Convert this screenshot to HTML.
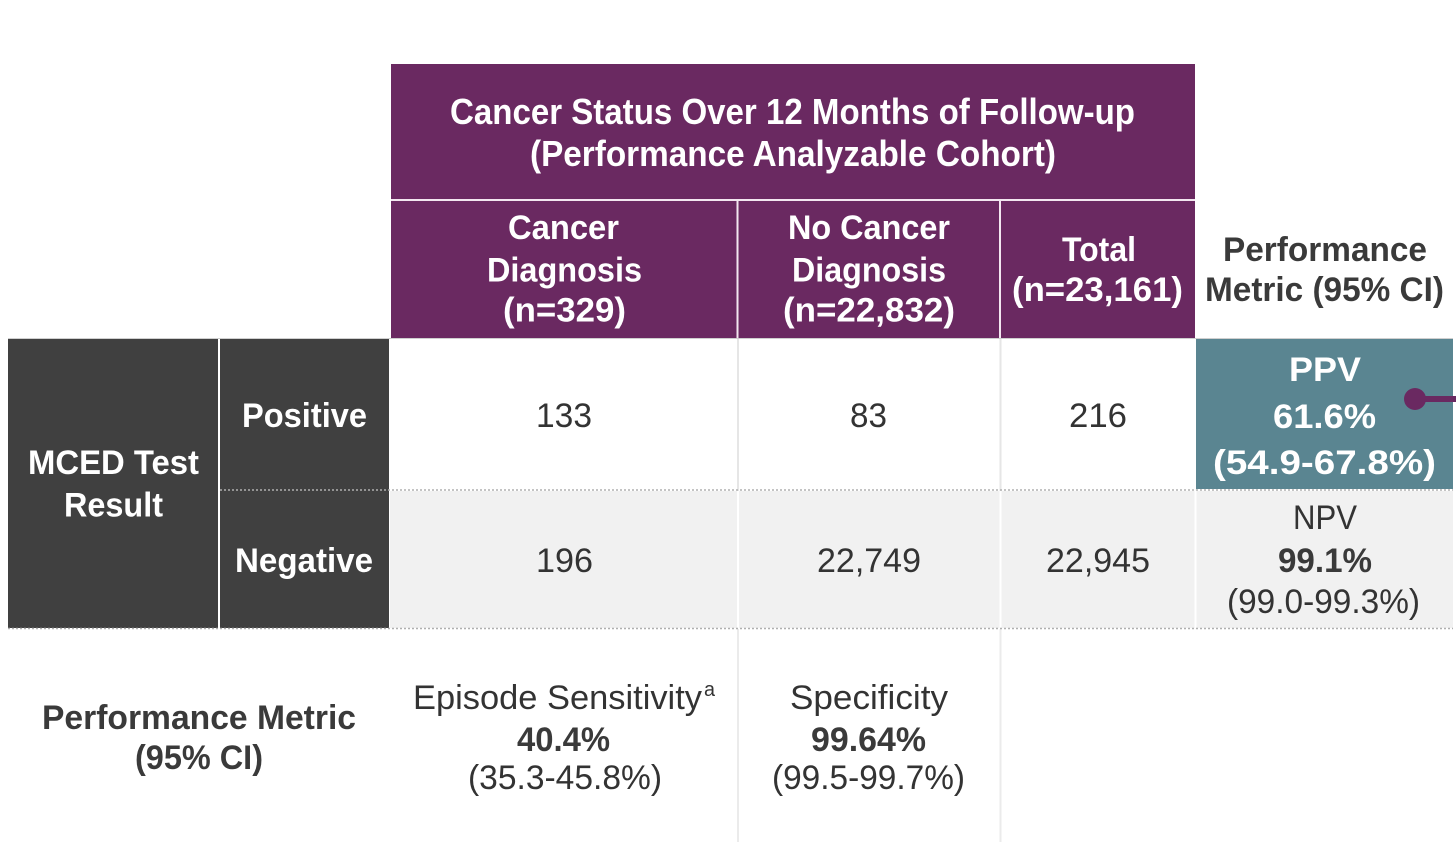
<!DOCTYPE html>
<html><head><meta charset="utf-8"><style>
html,body{margin:0;padding:0;background:#fff;}
svg{display:block;}
text{font-family:"Liberation Sans",Arial,sans-serif;}
.b{font-weight:bold;}
</style></head><body>
<svg width="1456" height="842" viewBox="0 0 1456 842" xmlns="http://www.w3.org/2000/svg">
<rect x="0" y="0" width="1456" height="842" fill="#fff"/>
<!-- purple header -->
<rect x="391" y="64" width="804" height="274" fill="#6a2961"/>
<rect x="391" y="199" width="804" height="2" fill="#f3e6f0"/>
<rect x="736.5" y="200" width="2" height="138" fill="#f3e6f0"/>
<rect x="999" y="200" width="2" height="138" fill="#f3e6f0"/>
<!-- negative row gray -->
<rect x="390" y="491" width="1063" height="137" fill="#f1f1f1"/>
<!-- column separators -->
<rect x="737" y="339" width="2" height="152" fill="#e6e6e6"/>
<rect x="999.5" y="339" width="2" height="152" fill="#e6e6e6"/>
<rect x="737" y="491" width="2" height="137" fill="#ffffff"/>
<rect x="999.5" y="491" width="2" height="137" fill="#ffffff"/>
<rect x="1194.5" y="491" width="2" height="137" fill="#ffffff"/>
<rect x="737" y="629" width="2" height="213" fill="#ebebeb"/>
<rect x="999.5" y="629" width="2" height="213" fill="#ebebeb"/>
<!-- teal PPV -->
<rect x="1196" y="339" width="257" height="150" fill="#5a8591"/>
<!-- dark blocks -->
<rect x="8" y="339" width="210" height="289" fill="#404040"/>
<rect x="220" y="339" width="169" height="289" fill="#404040"/>
<!-- lines -->
<line x1="8" y1="338.5" x2="1453" y2="338.5" stroke="#cfcfcf" stroke-width="1"/>
<line x1="220" y1="490" x2="1453" y2="490" stroke="#b0b0b0" stroke-width="1.5" stroke-dasharray="2,2"/>
<line x1="8" y1="628.5" x2="1453" y2="628.5" stroke="#b0b0b0" stroke-width="1.5" stroke-dasharray="2,2"/>
<!-- connector -->
<line x1="1415" y1="399" x2="1456" y2="399" stroke="#6a2961" stroke-width="6"/>
<circle cx="1415" cy="399" r="11" fill="#6a2961"/>

<!-- title -->
<g fill="#fff" class="b" font-weight="bold">
<text x="450" y="124" font-size="36" textLength="685" lengthAdjust="spacingAndGlyphs">Cancer Status Over 12 Months of Follow-up</text>
<text x="530" y="166" font-size="36" textLength="526" lengthAdjust="spacingAndGlyphs">(Performance Analyzable Cohort)</text>
<text x="508" y="239" font-size="34" textLength="111" lengthAdjust="spacingAndGlyphs">Cancer</text>
<text x="487" y="281.5" font-size="34" textLength="155" lengthAdjust="spacingAndGlyphs">Diagnosis</text>
<text x="503" y="321.5" font-size="34" textLength="123" lengthAdjust="spacingAndGlyphs">(n=329)</text>
<text x="788" y="239" font-size="34" textLength="162" lengthAdjust="spacingAndGlyphs">No Cancer</text>
<text x="792" y="281.5" font-size="34" textLength="154" lengthAdjust="spacingAndGlyphs">Diagnosis</text>
<text x="783" y="321.5" font-size="34" textLength="172" lengthAdjust="spacingAndGlyphs">(n=22,832)</text>
<text x="1062" y="261" font-size="34" textLength="74" lengthAdjust="spacingAndGlyphs">Total</text>
<text x="1012" y="301" font-size="34" textLength="171" lengthAdjust="spacingAndGlyphs">(n=23,161)</text>
</g>
<g fill="#3a3a3a" font-weight="bold">
<text x="1223" y="261" font-size="34" textLength="204" lengthAdjust="spacingAndGlyphs">Performance</text>
<text x="1205" y="301" font-size="34" textLength="239" lengthAdjust="spacingAndGlyphs">Metric (95% CI)</text>
</g>

<!-- row labels -->
<g fill="#fff" font-weight="bold">
<text x="28" y="474" font-size="34" textLength="171" lengthAdjust="spacingAndGlyphs">MCED Test</text>
<text x="64" y="516.5" font-size="34" textLength="99" lengthAdjust="spacingAndGlyphs">Result</text>
<text x="242" y="427" font-size="34" textLength="125" lengthAdjust="spacingAndGlyphs">Positive</text>
<text x="235" y="572" font-size="34" textLength="138" lengthAdjust="spacingAndGlyphs">Negative</text>
<text x="1289" y="381" font-size="34" textLength="72" lengthAdjust="spacingAndGlyphs">PPV</text>
<text x="1273" y="428" font-size="34" textLength="103" lengthAdjust="spacingAndGlyphs">61.6%</text>
<text x="1213" y="474" font-size="34" textLength="223" lengthAdjust="spacingAndGlyphs">(54.9-67.8%)</text>
</g>

<!-- numbers -->
<g fill="#333">
<text x="536" y="427" font-size="34" textLength="56" lengthAdjust="spacingAndGlyphs">133</text>
<text x="850" y="427" font-size="34" textLength="37" lengthAdjust="spacingAndGlyphs">83</text>
<text x="1069" y="427" font-size="34" textLength="58" lengthAdjust="spacingAndGlyphs">216</text>
<text x="536" y="572" font-size="34" textLength="57" lengthAdjust="spacingAndGlyphs">196</text>
<text x="817" y="572" font-size="34" textLength="104" lengthAdjust="spacingAndGlyphs">22,749</text>
<text x="1046" y="572" font-size="34" textLength="104" lengthAdjust="spacingAndGlyphs">22,945</text>
<text x="1293" y="529" font-size="34" textLength="64" lengthAdjust="spacingAndGlyphs">NPV</text>
<text x="1227" y="613" font-size="34" textLength="193" lengthAdjust="spacingAndGlyphs">(99.0-99.3%)</text>
<text x="413" y="709" font-size="34" textLength="289" lengthAdjust="spacingAndGlyphs">Episode Sensitivity</text>
<text x="704" y="696" font-size="20" textLength="11" lengthAdjust="spacingAndGlyphs">a</text>
<text x="468" y="789" font-size="34" textLength="194" lengthAdjust="spacingAndGlyphs">(35.3-45.8%)</text>
<text x="790" y="709" font-size="34" textLength="158" lengthAdjust="spacingAndGlyphs">Specificity</text>
<text x="772" y="789" font-size="34" textLength="193" lengthAdjust="spacingAndGlyphs">(99.5-99.7%)</text>
</g>
<g fill="#3a3a3a" font-weight="bold">
<text x="1278" y="572" font-size="34" textLength="94" lengthAdjust="spacingAndGlyphs">99.1%</text>
<text x="517" y="751" font-size="34" textLength="93" lengthAdjust="spacingAndGlyphs">40.4%</text>
<text x="811" y="751" font-size="34" textLength="115" lengthAdjust="spacingAndGlyphs">99.64%</text>
<text x="42" y="729" font-size="34" textLength="314" lengthAdjust="spacingAndGlyphs">Performance Metric</text>
<text x="135" y="769" font-size="34" textLength="128" lengthAdjust="spacingAndGlyphs">(95% CI)</text>
</g>
</svg>
</body></html>
